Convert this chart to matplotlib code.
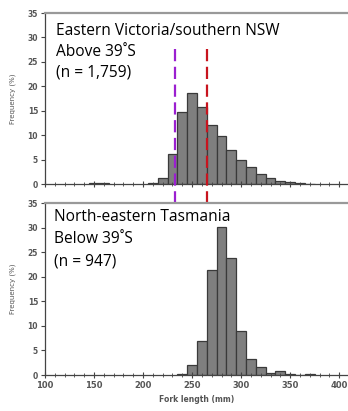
import matplotlib
matplotlib.use("Agg")
import matplotlib.pyplot as plt
import numpy as np

# bin centres (mm) and frequencies (%)
north_bins = [150, 160, 210, 220, 230, 240, 250, 260, 270, 280, 290, 300,
              310, 320, 330, 340, 350, 360, 370]
north_freq = [0.2, 0.2, 0.3, 1.2, 6.2, 14.7, 18.6, 15.8, 12.0, 9.9, 6.9, 5.0,
              3.4, 2.1, 1.3, 0.6, 0.5, 0.2, 0.1]

south_bins = [240, 250, 260, 270, 280, 290, 300, 310, 320, 330, 340, 350, 360, 370]
south_freq = [0.3, 2.0, 7.0, 21.4, 30.2, 23.9, 9.0, 3.3, 1.7, 0.4, 0.8, 0.3, 0.1, 0.3]

purple_mark = 233
red_mark = 265

labels_top = ["Eastern Victoria/southern NSW", "Above 39\u02daS", "(n = 1,759)"]
labels_bot = ["North-eastern Tasmania", "Below 39\u02daS", "(n = 947)"]

fig = plt.figure(figsize=(3.48, 4.11), dpi=100)
ax1 = fig.add_axes([45/348, 1-184/411, 1-45/348, 171/411])
ax2 = fig.add_axes([45/348, 1-375/411, 1-45/348, 172/411])

txtfont = ['Open Sans', 'DejaVu Sans']
panels = [(ax1, north_bins, north_freq, labels_top, 0.036, [0.871, 0.749, 0.627]),
          (ax2, south_bins, south_freq, labels_bot, 0.031, [0.895, 0.765, 0.637])]
for ax, bins, freq, labels, tx, ty in panels:
    ax.bar(bins, freq, width=10, color='#7f7f7f', edgecolor='#3a3a3a', linewidth=0.9)
    ax.set_xlim(100, 409)
    ax.set_ylim(0, 35)
    ax.set_yticks(np.arange(0, 36, 5))
    ax.set_xticks(np.arange(100, 401, 50))
    ax.set_xticks(np.arange(100, 401, 10), minor=True)
    ax.tick_params(axis='y', direction='out', length=3, width=0.8, colors='#444444',
                   labelsize=5.5, pad=2)
    ax.tick_params(axis='x', which='major', direction='inout', length=4, width=0.8,
                   colors='#444444', labelsize=6, pad=2)
    ax.tick_params(axis='x', which='minor', direction='inout', length=3, width=0.6,
                   colors='#444444')
    for lab in ax.get_yticklabels() + ax.get_xticklabels():
        lab.set_fontweight('bold')
        lab.set_color('#555555')
    ax.spines['right'].set_visible(False)
    ax.spines['top'].set_color('#999999')
    ax.spines['top'].set_linewidth(1.6)
    ax.spines['left'].set_color('#444444')
    ax.spines['bottom'].set_color('#444444')
    ax.spines['left'].set_linewidth(0.9)
    ax.spines['bottom'].set_linewidth(0.9)
    ax.set_ylabel('Frequency (%)', fontsize=5, color='#555555', labelpad=8)
    for t, yy in zip(labels, ty):
        ax.text(tx, yy, t, transform=ax.transAxes, fontsize=11.2,
                family=txtfont, va='baseline', ha='left', color='black')

ax1.tick_params(axis='x', labelbottom=False)
ax2.set_xlabel('Fork length (mm)', fontsize=5.5, color='#555555', labelpad=4,
               fontweight='bold')

# dashed markers span both panels
trans = matplotlib.transforms.blended_transform_factory(ax1.transData, ax1.transAxes)
for xv, col in [(purple_mark, '#9b1fd0'), (red_mark, '#c8141e')]:
    ax1.plot([xv, xv], [0.79, -1.117], transform=trans, color=col, lw=1.6,
             dashes=(5.5, 2.5), clip_on=False, zorder=5)

fig.savefig('out.png', dpi=100)
